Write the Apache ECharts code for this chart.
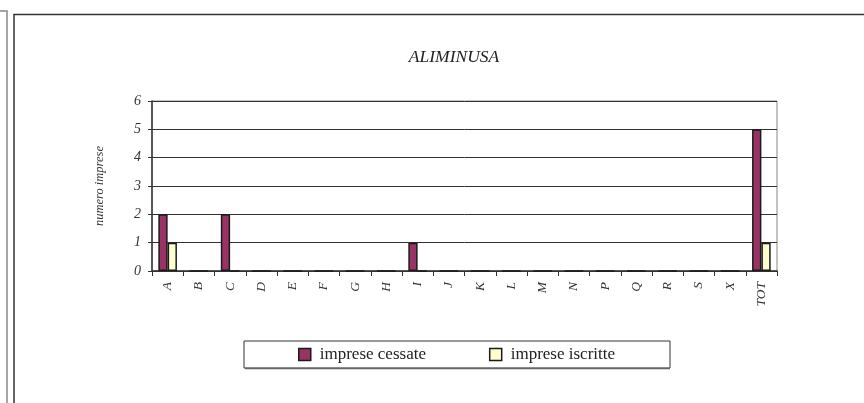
<!DOCTYPE html>
<html lang="it">
<head>
    <meta charset="UTF-8">
    <title>ALIMINUSA</title>
    <script src="https://cdn.jsdelivr.net/npm/echarts@6/dist/echarts.min.js"></script>
    <style>
        html, body { margin: 0; padding: 0; background: #fff; }
        #chart { width: 864px; height: 403px; }
    </style>
</head>
<body>
<div id="chart"></div>
<script type="text/javascript">
    // categorie (sezioni di attività)
    var categorie = ['A', 'B', 'C', 'D', 'E', 'F', 'G', 'H', 'I', 'J', 'K', 'L', 'M', 'N', 'P', 'Q', 'R', 'S', 'X', 'TOT'];
    // imprese cessate
    var cessate = [2, 0, 2, 0, 0, 0, 0, 0, 1, 0, 0, 0, 0, 0, 0, 0, 0, 0, 0, 5];
    // imprese iscritte
    var iscritte = [1, 0, 0, 0, 0, 0, 0, 0, 0, 0, 0, 0, 0, 0, 0, 0, 0, 0, 0, 1];
    var titolo = 'ALIMINUSA';
    var nomiSerie = ['imprese cessate', 'imprese iscritte'];

    var font = '"Liberation Serif", "Times New Roman", serif';
    var myChart = echarts.init(document.getElementById('chart'));

    myChart.setOption({
        animation: false,
        title: {
            text: titolo,
            left: 449,
            textAlign: 'center',
            top: 43,
            textStyle: {fontFamily: font, fontStyle: 'italic', fontWeight: 'normal', fontSize: 17.5, color: '#222'}
        },
        legend: {
            data: nomiSerie,
            icon: 'rect',
            left: 298,
            top: 346,
            itemWidth: 12,
            itemHeight: 12,
            itemGap: 63,
            padding: 0,
            itemStyle: {borderColor: '#1a1a1a', borderWidth: 1.5},
            textStyle: {fontFamily: font, fontSize: 17, color: '#222', padding: [0, 0, 0, 4]}
        },
        grid: {left: 152, right: 87, top: 101, bottom: 132, show: true, borderColor: '#888', borderWidth: 1},
        xAxis: {
            type: 'category',
            data: categorie,
            axisLine: {lineStyle: {color: '#333', width: 1.5}},
            axisTick: {show: true, length: 5, lineStyle: {color: '#333'}},
            axisLabel: {rotate: 90, margin: 11, fontFamily: font, fontStyle: 'italic', fontSize: 13.5, color: '#333'}
        },
        yAxis: {
            type: 'value',
            min: 0,
            max: 6,
            interval: 1,
            name: 'numero imprese',
            nameLocation: 'middle',
            nameGap: 46,
            nameTextStyle: {fontFamily: font, fontStyle: 'italic', fontSize: 12.5, color: '#333'},
            axisLine: {show: true, lineStyle: {color: '#333', width: 1.5}},
            axisTick: {show: true, length: 4, lineStyle: {color: '#333'}},
            axisLabel: {margin: 11, fontFamily: font, fontStyle: 'italic', fontSize: 14, color: '#333'},
            splitLine: {lineStyle: {color: '#333', width: 1}}
        },
        series: [{
            name: nomiSerie[0],
            type: 'bar',
            data: cessate,
            barWidth: 9.3,
            barGap: 0,
            itemStyle: {color: '#993366', borderColor: '#1a1a1a', borderWidth: 1.5}
        }, {
            name: nomiSerie[1],
            type: 'bar',
            data: iscritte,
            barWidth: 9.3,
            itemStyle: {color: '#ffffcc', borderColor: '#1a1a1a', borderWidth: 1.5}
        }],
        graphic: [
            // cornice del grafico precedente (bordo destro)
            {type: 'polyline', shape: {points: [[0, 11], [7, 11], [7, 403]]}, style: {stroke: '#888', lineWidth: 1.5, fill: null}},
            // cornice principale
            {type: 'polyline', shape: {points: [[14, 403], [14, 14.5], [864, 14.5]]}, style: {stroke: '#333', lineWidth: 1.5, fill: null}},
            // riquadro legenda
            {type: 'rect', shape: {x: 244, y: 341, width: 426, height: 27}, style: {stroke: '#333', lineWidth: 1, fill: null}},
            {type: 'line', shape: {x1: 245, y1: 368.5, x2: 670, y2: 368.5}, style: {stroke: '#666', lineWidth: 1.5}}
        ]
    });
</script>
</body>
</html>
